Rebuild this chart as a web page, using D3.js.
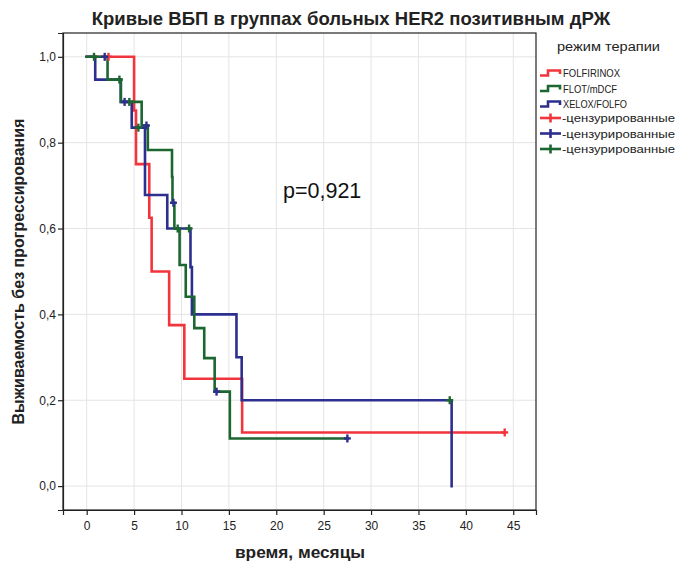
<!DOCTYPE html>
<html>
<head>
<meta charset="utf-8">
<script src="https://cdn.jsdelivr.net/npm/d3@7"></script>
<style>
  html, body { margin: 0; padding: 0; background: #fff; }
  svg { display: block; font-family: "Liberation Sans", Arial, sans-serif; }
</style>
</head>
<body>
<svg id="chart" width="677" height="562"></svg>
<script>
// Progression-free survival, Kaplan–Meier step curves by therapy regimen
const timeTicks = [0, 5, 10, 15, 20, 25, 30, 35, 40, 45];
const survTicks = [0, 0.2, 0.4, 0.6, 0.8, 1.0];

const groupNames = ["FOLFIRINOX", "FLOT/mDCF", "XELOX/FOLFO"];

// FOLFIRINOX
const folfirinoxTimes = [0, 5.0, 5.2, 6.6, 6.85, 8.7, 10.3, 16.4];
const folfirinoxSurv  = [1.0, 0.875, 0.75, 0.625, 0.5, 0.375, 0.25, 0.125];
const folfirinoxEnd = 44.1;
const folfirinoxCensored = [2.3, 44.1];

// FLOT/mDCF
const flotTimes = [0, 2.2, 3.6, 5.8, 6.45, 9.0, 9.05, 9.25, 9.8, 10.45, 11.35, 12.4, 13.5, 15.1];
const flotSurv  = [1.0, 0.947, 0.895, 0.84, 0.783, 0.72, 0.66, 0.6, 0.515, 0.441, 0.368, 0.298, 0.22, 0.111];
const flotEnd = 27.5;
const flotCensored = [1.9, 4.0, 6.3, 9.15, 13.7, 27.5];

// XELOX/FOLFO
const xeloxTimes = [0, 0.9, 3.6, 4.75, 6.15, 8.5, 10.95, 11.1, 15.8, 16.35, 38.5];
const xeloxSurv  = [1.0, 0.947, 0.895, 0.835, 0.678, 0.6, 0.51, 0.4, 0.3, 0.2, 0.0];
const xeloxEnd = 38.5;
const xeloxCensored = [0.77, 3.45, 4.5, 5.45, 9.6, 10.8, 38.3];

const lineColors = ["#f2353c", "#1c6630", "#2d2f8e"];
// censor marks of each curve use the colour shown in the legend rows below
const censorColors = ["#f2353c", "#2d2f8e", "#1c6630"];

const groups = [
  { name: groupNames[0], times: folfirinoxTimes, surv: folfirinoxSurv, end: folfirinoxEnd, cens: folfirinoxCensored, color: lineColors[0], ccolor: censorColors[0] },
  { name: groupNames[1], times: flotTimes, surv: flotSurv, end: flotEnd, cens: flotCensored, color: lineColors[1], ccolor: censorColors[1] },
  { name: groupNames[2], times: xeloxTimes, surv: xeloxSurv, end: xeloxEnd, cens: xeloxCensored, color: lineColors[2], ccolor: censorColors[2] }
];
// drawing order: red first, then navy, then green on top
const drawOrder = [0, 2, 1];

const svg = d3.select("#chart");
const plotLeft = 63, plotRight = 536, plotTop = 33, plotBottom = 510;

const x = d3.scaleLinear().domain([-2.5, 47.4]).range([plotLeft, plotRight]);
const y = d3.scaleLinear().domain([-0.0557, 1.0555]).range([plotBottom, plotTop]);

// grid
const grid = svg.append("g").attr("stroke", "#e4e4e4").attr("stroke-width", 1);
grid.selectAll("line.v").data(timeTicks).join("line").attr("class", "v")
  .attr("x1", d => x(d)).attr("x2", d => x(d)).attr("y1", plotTop).attr("y2", plotBottom);
grid.selectAll("line.h").data(survTicks).join("line").attr("class", "h")
  .attr("x1", plotLeft).attr("x2", plotRight).attr("y1", d => y(d)).attr("y2", d => y(d));

// frame
svg.append("rect").attr("x", plotLeft).attr("y", plotTop)
  .attr("width", plotRight - plotLeft).attr("height", plotBottom - plotTop)
  .attr("fill", "none").attr("stroke", "#222").attr("stroke-width", 1.2);

// axes
const xAxis = svg.append("g").attr("transform", `translate(0,${plotBottom})`)
  .call(d3.axisBottom(x).tickValues(timeTicks).tickSize(5).tickPadding(6).tickFormat(d3.format("d")));
const yAxis = svg.append("g").attr("transform", `translate(${plotLeft},0)`)
  .call(d3.axisLeft(y).tickValues(survTicks).tickSize(5).tickPadding(2)
    .tickFormat(d => d3.format(".1f")(d).replace(".", ",")));
[xAxis, yAxis].forEach(a => {
  a.select(".domain").attr("stroke", "#222").attr("stroke-width", 1.2);
  a.selectAll(".tick line").attr("stroke", "#222").attr("stroke-width", 1.2);
  a.selectAll(".tick text").attr("fill", "#222").style("font-size", "12px")
    .style("font-family", "'Liberation Sans', Arial, sans-serif");
});

// step path helper
function stepPoints(g) {
  const pts = [];
  for (let i = 0; i < g.times.length; i++) {
    if (i > 0) pts.push([g.times[i], g.surv[i - 1]]);
    pts.push([g.times[i], g.surv[i]]);
  }
  const last = g.times[g.times.length - 1];
  if (g.end > last) pts.push([g.end, g.surv[g.surv.length - 1]]);
  return pts;
}
function survAt(g, t) {
  let s = g.surv[0];
  for (let i = 0; i < g.times.length; i++) if (g.times[i] <= t) s = g.surv[i];
  return s;
}

const line = d3.line().x(d => x(d[0])).y(d => y(d[1]));
const plot = svg.append("g");
drawOrder.forEach(k => {
  const g = groups[k];
  plot.append("path").attr("d", line(stepPoints(g)))
    .attr("fill", "none").attr("stroke", g.color).attr("stroke-width", 2.6)
    .attr("stroke-linejoin", "miter").attr("stroke-linecap", "square");
});
drawOrder.forEach(k => {
  const g = groups[k];
  const cg = plot.append("g").attr("stroke", g.ccolor).attr("stroke-width", 2.4);
  g.cens.forEach(t => {
    const cx = x(t), cy = y(survAt(g, t));
    cg.append("line").attr("x1", cx - 3.5).attr("x2", cx + 3.5).attr("y1", cy).attr("y2", cy);
    cg.append("line").attr("x1", cx).attr("x2", cx).attr("y1", cy - 4).attr("y2", cy + 4);
  });
});

// title
svg.append("text").attr("x", 351).attr("y", 25).attr("text-anchor", "middle")
  .style("font-size", "18.5px").style("font-weight", "bold").attr("fill", "#222")
  .text("Кривые ВБП в группах больных HER2 позитивным дРЖ");

// axis titles
svg.append("text").attr("x", 300).attr("y", 558).attr("text-anchor", "middle")
  .style("font-size", "16px").style("font-weight", "bold").attr("fill", "#222")
  .attr("textLength", 130).attr("lengthAdjust", "spacingAndGlyphs")
  .text("время, месяцы");
svg.append("text").attr("transform", `translate(24,${(plotTop + plotBottom) / 2}) rotate(-90)`)
  .attr("text-anchor", "middle")
  .style("font-size", "16px").style("font-weight", "bold").attr("fill", "#222")
  .text("Выживаемость без прогрессирования");

// p-value
svg.append("text").attr("x", 283).attr("y", 198)
  .style("font-size", "21.5px").attr("fill", "#111").text("p=0,921");

// legend
const legend = svg.append("g");
legend.append("text").attr("x", 557).attr("y", 51)
  .style("font-size", "12.5px").attr("fill", "#222")
  .attr("textLength", 103).attr("lengthAdjust", "spacingAndGlyphs")
  .text("режим терапии");
const rowY = [73, 88.5, 104, 118, 133.5, 149];
const nameWidths = [57, 54, 64];
groups.forEach((g, i) => {
  const yy = rowY[i];
  legend.append("path")
    .attr("d", `M540,${yy + 2.5}H548V${yy - 2.5}H560V${yy + 1}`)
    .attr("fill", "none").attr("stroke", g.color).attr("stroke-width", 2.6);
  legend.append("text").attr("x", 563).attr("y", yy + 4)
    .style("font-size", "11.5px").attr("fill", "#222")
    .attr("textLength", nameWidths[i]).attr("lengthAdjust", "spacingAndGlyphs")
    .text(g.name);
});
censorColors.forEach((c, i) => {
  const yy = rowY[3 + i];
  legend.append("line").attr("x1", 540).attr("x2", 561).attr("y1", yy).attr("y2", yy)
    .attr("stroke", c).attr("stroke-width", 2.6);
  legend.append("line").attr("x1", 550.5).attr("x2", 550.5).attr("y1", yy - 4.5).attr("y2", yy + 4.5)
    .attr("stroke", c).attr("stroke-width", 2.6);
  legend.append("text").attr("x", 562).attr("y", yy + 4)
    .style("font-size", "11px").attr("fill", "#222")
    .attr("textLength", 113).attr("lengthAdjust", "spacingAndGlyphs")
    .text("-цензурированные");
});
</script>
</body>
</html>
